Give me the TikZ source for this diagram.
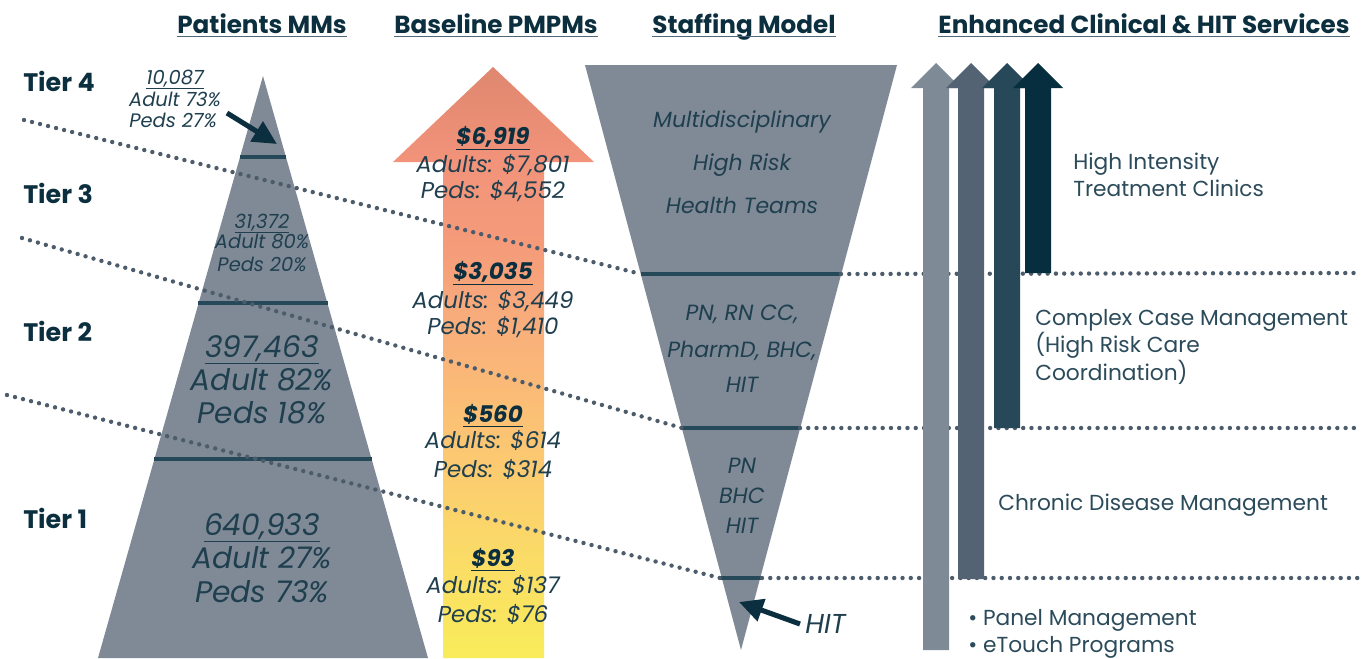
\documentclass[tikz,border=0pt]{standalone}
\usepackage{fontspec}
\setmainfont{Poppins}
\usetikzlibrary{arrows.meta}
\definecolor{navy}{HTML}{0B2F3E}
\definecolor{txt}{HTML}{1F3F4F}
\definecolor{graym}{HTML}{7F8A96}
\definecolor{tealline}{HTML}{26495A}
\definecolor{dotc}{HTML}{4D5C6B}
\definecolor{arrA}{HTML}{7F8A97}
\definecolor{arrB}{HTML}{536373}
\definecolor{arrC}{HTML}{264858}
\definecolor{arrD}{HTML}{062E3E}
\definecolor{rtxt}{HTML}{2C4B5A}
\definecolor{ulc}{HTML}{50697A}
\definecolor{gY}{HTML}{F9EC5A}
\definecolor{gY2}{HTML}{FADC66}
\definecolor{gO1}{HTML}{FCCB70}
\definecolor{gO2}{HTML}{F9AF7B}
\definecolor{gS1}{HTML}{F59C7A}
\definecolor{gS2}{HTML}{F2937A}
\definecolor{gT}{HTML}{DF876F}
\pgfdeclareverticalshading{pmpm}{100bp}{color(0bp)=(gY); color(25bp)=(gY); color(33.3bp)=(gY2); color(40.9bp)=(gO1); color(52.8bp)=(gO2); color(59.5bp)=(gS1); color(67bp)=(gS2); color(75bp)=(gT); color(100bp)=(gT)}
\begin{document}
\begin{tikzpicture}[x=0.75pt,y=-0.75pt,
  hd/.style={anchor=base, inner sep=0pt, text=navy, font=\fontsize{18.5}{22}\selectfont\bfseries},
  ul/.style={draw=ulc, line width=1.4pt},
  tier/.style={anchor=base west, inner sep=0pt, text=navy, font=\fontsize{19}{22}\selectfont\bfseries},
  ptxt/.style={anchor=base, inner sep=0pt, text=txt, font=\fontsize{14.6}{17}\selectfont\itshape},
  pbig/.style={anchor=base, inner sep=0pt, text=txt, font=\fontsize{22.3}{26}\selectfont\itshape},
  atxt/.style={anchor=base, inner sep=0pt, text=txt, font=\fontsize{17.2}{20}\selectfont\itshape},
  abold/.style={anchor=base, inner sep=0pt, text=navy, font=\fontsize{17.2}{20}\selectfont\bfseries\itshape},
  ftxt/.style={anchor=base, inner sep=0pt, text=txt, font=\fontsize{16.5}{19}\selectfont\itshape},
  rtx/.style={anchor=base west, inner sep=0pt, text=rtxt, font=\fontsize{16.3}{19}\selectfont},
  tline/.style={draw=tealline, line width=3.2pt},
  dotl/.style={draw=dotc, line width=3.3pt, line cap=round, dash pattern=on 0pt off 6.2pt},
  bigarrow/.style={draw=navy, line width=3.8pt, -{Triangle[length=18pt,width=17pt]}}
]
\useasboundingbox (0,0) rectangle (1371,658);

% ---- shapes ----
\fill[graym] (98,658) -- (263,76) -- (428,658) -- cycle;
\fill[graym] (585,65) -- (897,65) -- (741,650) -- cycle;
\shade[shading=pmpm] (443,658) -- (443,162) -- (393,162) -- (493,67) -- (594,162) -- (544,162) -- (544,658) -- cycle;

% pyramid tier lines
\coordinate (p1l) at (240,157); \coordinate (p1r) at (286,157);
\coordinate (p2l) at (198,303); \coordinate (p2r) at (328,303);
\coordinate (p3l) at (154,459); \coordinate (p3r) at (372,459);
\draw[tline] (p1l) -- (p1r);
\draw[tline] (p2l) -- (p2r);
\draw[tline] (p3l) -- (p3r);

% funnel tier lines
\coordinate (fAl) at (641,274); \coordinate (fAr) at (841,274);
\coordinate (fBl) at (682,428); \coordinate (fBr) at (800,428);
\coordinate (fCl) at (720,578); \coordinate (fCr) at (762,578);
\draw[tline] (fAl) -- (fAr);
\draw[tline] (fBl) -- (fBr);
\draw[tline] (fCl) -- (fCr);

% dotted lines
\coordinate (dA) at (24,120); \coordinate (eA) at (1358,273);
\coordinate (dB) at (22,238); \coordinate (eB) at (1358,428);
\coordinate (dC) at (7,395);  \coordinate (eC) at (1358,578);
\draw[dotl] (dA) -- (fAl);
\draw[dotl] (fAr) -- (eA);
\draw[dotl] (dB) -- (fBl);
\draw[dotl] (fBr) -- (eB);
\draw[dotl] (dC) -- (fCl);
\draw[dotl] (fCr) -- (eC);

% service arrows
\fill[arrA] (923,650) -- (923,88) -- (911,88) -- (936,63) -- (961,88) -- (949,88) -- (949,650) -- cycle;
\fill[arrB] (958,579) -- (958,88) -- (946,88) -- (971,63) -- (996,88) -- (984,88) -- (984,579) -- cycle;
\fill[arrC] (994,428) -- (994,88) -- (982,88) -- (1007,63) -- (1032,88) -- (1020,88) -- (1020,428) -- cycle;
\fill[arrD] (1025,273) -- (1025,88) -- (1013,88) -- (1038,63) -- (1063,88) -- (1051,88) -- (1051,273) -- cycle;

% ---- headings ----
\node[hd] (h1) at (262,33) {Patients MMs};
\node[hd] (h2) at (496,33) {Baseline PMPMs};
\node[hd] (h3) at (744,33) {Staffing Model};
\node[hd] (h4) at (1144,33) {Enhanced Clinical \& HIT Services};
\foreach \h in {h1,h2,h3,h4} \draw[ul] ([yshift=-2.6pt]\h.base west) -- ([yshift=-2.6pt]\h.base east);

% ---- tiers ----
\node[tier] (t4) at (23,91) {Tier 4};
\node[tier] (t3) at (23,203) {Tier 3};
\node[tier] (t2) at (23,341) {Tier 2};
\node[tier] (t1) at (23,528) {Tier 1};

% ---- pyramid text ----
\node[ptxt] (pa1) at (175,84) {\underline{10,087}};
\node[ptxt] (pa2) at (175,106) {Adult 73\%};
\node[ptxt] (pa3) at (173,127) {Peds 27\%};
\coordinate (pas) at (227,113); \coordinate (pae) at (277,144);
\draw[bigarrow] (pas) -- (pae);
\node[ptxt] (pb1) at (262,228) {\underline{31,372}};
\node[ptxt] (pb2) at (262,248) {Adult 80\%};
\node[ptxt] (pb3) at (262,271) {Peds 20\%};
\node[pbig] (pc1) at (262,357) {\underline{397,463}};
\node[pbig] (pc2) at (262,390) {Adult 82\%};
\node[pbig] (pc3) at (262,423) {Peds 18\%};
\node[pbig] (pd1) at (262,535) {\underline{640,933}};
\node[pbig] (pd2) at (262,568) {Adult 27\%};
\node[pbig] (pd3) at (262,602) {Peds 73\%};

% ---- PMPM text ----
\node[abold] (ma1) at (493,144) {\underline{\$6,919}};
\node[atxt] (ma2) at (493,172) {Adults: \$7,801};
\node[atxt] (ma3) at (493,198) {Peds: \$4,552};
\node[abold] (mb1) at (493,279) {\underline{\$3,035}};
\node[atxt] (mb2) at (493,308) {Adults: \$3,449};
\node[atxt] (mb3) at (493,334) {Peds: \$1,410};
\node[abold] (mc1) at (493,422) {\underline{\$560}};
\node[atxt] (mc2) at (493,448) {Adults: \$614};
\node[atxt] (mc3) at (493,477) {Peds: \$314};
\node[abold] (md1) at (493,566) {\underline{\$93}};
\node[atxt] (md2) at (493,593) {Adults: \$137};
\node[atxt] (md3) at (493,622) {Peds: \$76};

% ---- staffing text ----
\node[ftxt] (fa1) at (742,127) {Multidisciplinary};
\node[ftxt] (fa2) at (742,170) {High Risk};
\node[ftxt] (fa3) at (742,213) {Health Teams};
\node[ftxt] (fb1) at (742,320) {PN, RN CC,};
\node[ftxt] (fb2) at (742,357) {PharmD, BHC,};
\node[ftxt] (fb3) at (742,392) {HIT};
\node[ftxt] (fc1) at (742,473) {PN};
\node[ftxt] (fc2) at (742,503) {BHC};
\node[ftxt] (fc3) at (742,533) {HIT};
\node[ftxt, anchor=base west, font=\fontsize{20.5}{24}\selectfont\itshape] (hitl) at (805,633) {HIT};
\coordinate (hitstart) at (800,624); \coordinate (hittip) at (739,602);
\draw[bigarrow] (hitstart) -- (hittip);

% ---- services text ----
\node[rtx] (r1) at (1073,169) {High Intensity};
\node[rtx] (r2) at (1073,196) {Treatment Clinics};
\node[rtx] (r3) at (1035,325) {Complex Case Management};
\node[rtx] (r4) at (1035,352) {(High Risk Care};
\node[rtx] (r5) at (1035,380) {Coordination)};
\node[rtx] (r6) at (998,510) {Chronic Disease Management};
\node[rtx] (r7) at (968,625) {\textbullet\ Panel Management};
\node[rtx] (r8) at (968,652) {\textbullet\ eTouch Programs};
\end{tikzpicture}
\end{document}
